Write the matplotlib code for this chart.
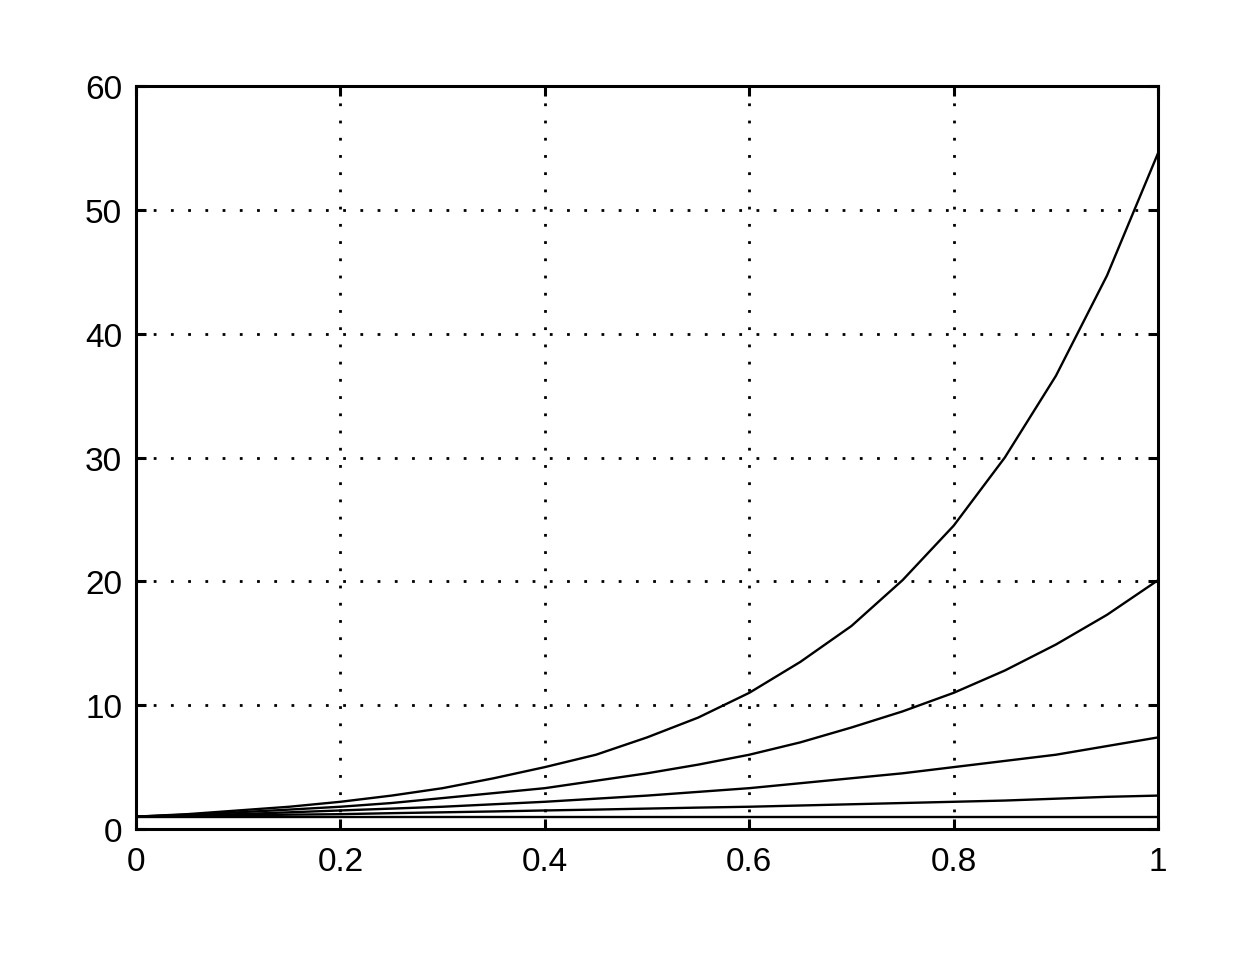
import matplotlib
matplotlib.use("Agg")
import matplotlib.pyplot as plt

# values at x = 0, 0.05, ..., 1
x = [0.0, 0.05, 0.1, 0.15, 0.2, 0.25, 0.3, 0.35, 0.4, 0.45, 0.5,
     0.55, 0.6, 0.65, 0.7, 0.75, 0.8, 0.85, 0.9, 0.95, 1.0]
curve_a = [1.0] * 21
curve_b = [1.0, 1.05, 1.1, 1.16, 1.2, 1.28, 1.35, 1.42, 1.5, 1.57, 1.65,
           1.73, 1.8, 1.9, 2.0, 2.1, 2.2, 2.3, 2.45, 2.6, 2.7]
curve_c = [1.0, 1.1, 1.2, 1.35, 1.5, 1.65, 1.8, 2.0, 2.2, 2.45, 2.7,
           3.0, 3.3, 3.7, 4.1, 4.5, 5.0, 5.5, 6.0, 6.7, 7.4]
curve_d = [1.0, 1.16, 1.35, 1.57, 1.8, 2.1, 2.5, 2.9, 3.3, 3.9, 4.5,
           5.2, 6.0, 7.0, 8.2, 9.5, 11.0, 12.8, 14.9, 17.3, 20.1]
curve_e = [1.0, 1.2, 1.5, 1.8, 2.2, 2.7, 3.3, 4.1, 5.0, 6.0, 7.4,
           9.0, 11.0, 13.5, 16.4, 20.1, 24.5, 30.0, 36.6, 44.7, 54.6]

xticks = [0, 0.2, 0.4, 0.6, 0.8, 1]
xlabels = ["0", "0.2", "0.4", "0.6", "0.8", "1"]
yticks = [0, 10, 20, 30, 40, 50, 60]

plt.rcParams['font.family'] = ['Liberation Sans', 'DejaVu Sans']

fig = plt.figure(figsize=(12.48, 9.70), dpi=100)
ax = fig.add_axes([0.109, 0.1443, 0.819, 0.7660])

for c in [curve_a, curve_b, curve_c, curve_d, curve_e]:
    ax.plot(x, c, color="black", linewidth=1.7)

ax.set_xlim(0, 1)
ax.set_ylim(0, 60)
ax.set_xticks(xticks)
ax.set_xticklabels(xlabels)
ax.set_yticks(yticks)

ax.grid(True, color="black", linewidth=2.0, linestyle=(0, (1, 5.2)))
ax.tick_params(direction="in", length=7, width=2.2, labelsize=24,
               top=True, right=True)
ax.tick_params(axis="x", pad=12)
ax.tick_params(axis="y", pad=10)
for s in ax.spines.values():
    s.set_linewidth(2.2)

fig.savefig("out.png", dpi=100)
